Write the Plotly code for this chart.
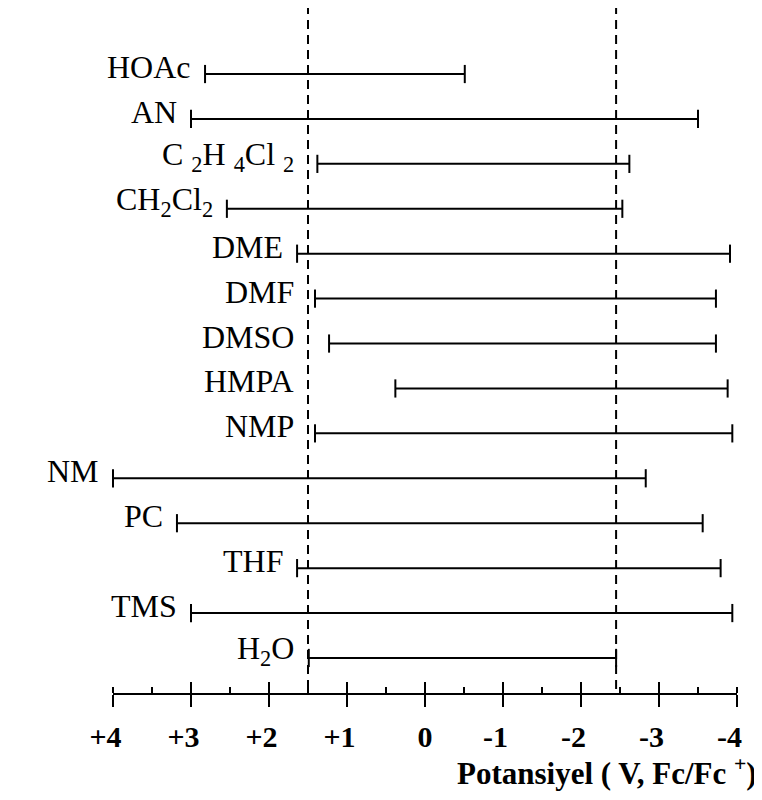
import plotly.graph_objects as go

# ---------------- data ----------------
solvents = ["HOAc", "AN", "C2H4Cl2", "CH2Cl2", "DME", "DMF", "DMSO",
            "HMPA", "NMP", "NM", "PC", "THF", "TMS", "H2O"]
labels = ["HOAc", "AN",
          "C\u00a0<sub>2</sub>H\u00a0<sub>4</sub>Cl\u00a0<sub>2</sub>",
          "CH<sub>2</sub>Cl<sub>2</sub>",
          "DME", "DMF", "DMSO", "HMPA", "NMP",
          "NM", "PC", "THF", "TMS", "H<sub>2</sub>O"]
anodic_limit = [2.82, 3.0, 1.38, 2.54, 1.64, 1.41, 1.23, 0.38, 1.41, 4.0, 3.18, 1.64, 3.0, 1.49]
cathodic_limit = [-0.51, -3.5, -2.62, -2.53, -3.91, -3.73, -3.73, -3.88, -3.94, -2.83, -3.56, -3.79, -3.94, -2.45]
ref_potentials = [1.5, -2.45]
tick_values = [4, 3, 2, 1, 0, -1, -2, -3, -4]
tick_labels = ["+4", "+3", "+2", "+1", "0", "-1", "-2", "-3", "-4"]
axis_title = "Potansiyel ( V, Fc/Fc\u00a0<sup>+</sup>)"

SERIF = "Liberation Serif, Times New Roman, serif"

# ---------------- figure ----------------
fig = go.Figure()

xs, ys = [], []
for s, a, c in zip(solvents, anodic_limit, cathodic_limit):
    xs += [a, c, None]
    ys += [s, s, None]

fig.add_trace(go.Scatter(
    x=xs, y=ys, mode="lines+markers",
    line=dict(color="black", width=2),
    marker=dict(symbol="line-ns", size=13, line=dict(color="black", width=2)),
    cliponaxis=False, showlegend=False, hoverinfo="skip", connectgaps=False,
))

# dashed reference lines
for v in ref_potentials:
    fig.add_shape(type="line", xref="x", yref="paper", x0=v, x1=v, y0=0.006, y1=1.0,
                  line=dict(color="black", width=2, dash="9px,6px"), layer="below")

# solvent labels: just left of the window start, but never right of the first dashed line
for s, lab, a in zip(solvents, labels, anodic_limit):
    fig.add_annotation(x=max(a, ref_potentials[0]), y=s,
                       xref="x", yref="y", text=lab, showarrow=False,
                       xanchor="right", yanchor="middle", xshift=-12, yshift=7,
                       font=dict(family=SERIF, size=32, color="black"))

# axis title
fig.add_annotation(x=1.035, y=0, xref="paper", yref="paper", text=axis_title,
                   showarrow=False, xanchor="right", yanchor="middle", yshift=-78,
                   font=dict(family=SERIF, size=31, color="black", weight="bold"))

pad = "\u00a0\u00a0"
fig.update_layout(
    width=754, height=792,
    margin=dict(l=105, r=25, t=0, b=107),
    plot_bgcolor="white", paper_bgcolor="white",
    showlegend=False,
    xaxis=dict(
        range=[4, -4], showgrid=False, zeroline=False,
        showline=True, linecolor="black", linewidth=2,
        tickvals=tick_values,
        ticktext=[t + pad if t[0] in "+-" else t for t in tick_labels],
        ticks="outside", ticklen=12, tickwidth=2, tickcolor="black",
        tickfont=dict(family=SERIF, size=30, color="black", weight="bold"),
        ticklabelstandoff=4,
        minor=dict(dtick=0.5, tick0=0, ticks="inside", ticklen=6, tickwidth=2, tickcolor="black"),
    ),
    xaxis2=dict(
        overlaying="x", matches="x", anchor="y", side="bottom",
        range=[4, -4], showgrid=False, zeroline=False, showline=False,
        tickvals=tick_values, showticklabels=False,
        ticks="inside", ticklen=11, tickwidth=2, tickcolor="black",
    ),
    yaxis=dict(
        type="category", categoryorder="array", categoryarray=solvents,
        range=[13.78, -1.47], visible=False, showticklabels=False,
        showgrid=False, zeroline=False,
    ),
)

# invisible trace so that xaxis2 (inner half of the major ticks) is drawn
fig.add_trace(go.Scatter(x=[0], y=[solvents[0]], xaxis="x2", mode="markers",
                         marker=dict(opacity=0), showlegend=False, hoverinfo="skip"))

fig.write_html("out.html")
